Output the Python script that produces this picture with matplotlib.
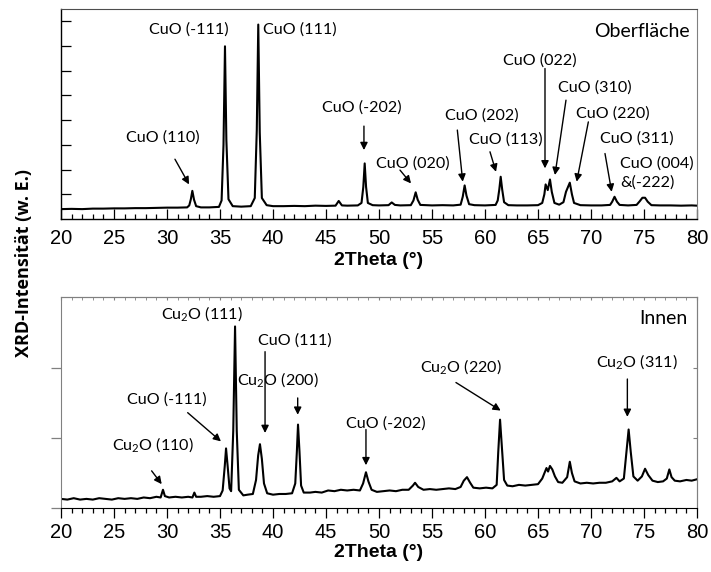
import matplotlib
matplotlib.use("Agg")
import matplotlib.pyplot as plt
from matplotlib.ticker import MultipleLocator

plt.rcParams['mathtext.default'] = 'regular'

# ---------------- data ----------------
# Top panel "Oberfläche": 2Theta and intensity (arb. units)
top_2theta = [20.0, 21, 22, 23, 24, 25, 26, 27, 28, 29, 30, 31, 31.9,
              32.1, 32.25, 32.39, 32.55, 32.75, 33.2, 34, 34.9,
              35.15, 35.33, 35.47, 35.6, 35.8, 36.2, 37, 37.9,
              38.28, 38.47, 38.61, 38.75, 38.95, 39.4, 40, 41, 42, 43, 44, 45, 45.9,
              46.2, 46.5, 47, 48, 48.35, 48.52, 48.65, 48.78, 48.95, 49.4, 50, 50.9,
              51.2, 51.5, 52, 53, 53.25, 53.46, 53.65, 53.9, 55, 56, 57, 57.7,
              57.9, 58.08, 58.25, 58.5, 59, 60, 61, 61.2, 61.35, 61.48, 61.62, 61.8,
              62.2, 63, 64, 65, 65.4, 65.6, 65.72, 65.92, 66.13, 66.3, 66.55, 67,
              67.4, 67.64, 68.0, 68.2, 68.4, 69, 70, 71, 71.8, 72.0, 72.22, 72.45,
              72.7, 73.5, 74.3, 74.6, 74.85, 75.1, 75.35, 75.7, 76.5, 77.5, 78.5,
              79.5, 80.0]
top_intensity = [0.40, 0.41, 0.40, 0.42, 0.42, 0.43, 0.43, 0.44, 0.44, 0.45, 0.46, 0.46, 0.47,
                 0.55, 0.80, 1.14, 0.78, 0.52, 0.47, 0.47, 0.49,
                 0.75, 3.0, 6.99, 3.2, 0.80, 0.52, 0.50, 0.52,
                 0.85, 3.6, 7.87, 3.5, 0.85, 0.56, 0.52, 0.52, 0.53, 0.52, 0.54, 0.53, 0.54,
                 0.73, 0.55, 0.54, 0.55, 0.65, 1.30, 2.25, 1.30, 0.65, 0.56, 0.55, 0.56,
                 0.67, 0.57, 0.55, 0.56, 0.75, 1.08, 0.78, 0.57, 0.55, 0.56, 0.55, 0.58,
                 0.90, 1.36, 0.95, 0.60, 0.56, 0.55, 0.57, 0.75, 1.20, 1.71, 1.20, 0.68,
                 0.56, 0.55, 0.55, 0.56, 0.65, 1.00, 1.40, 1.17, 1.60, 1.10, 0.65, 0.58,
                 0.68, 1.10, 1.47, 1.00, 0.65, 0.56, 0.55, 0.55, 0.57, 0.70, 0.90, 0.70,
                 0.57, 0.55, 0.57, 0.72, 0.86, 0.86, 0.70, 0.56, 0.55, 0.55, 0.54,
                 0.55, 0.54]

# Bottom panel "Innen"
bot_2theta = [20.0, 20.6, 21.2, 21.8, 22.4, 23.0, 23.6, 24.2, 24.8, 25.4, 26.0, 26.6, 27.2,
              27.8, 28.4, 29.0, 29.4, 29.62, 29.8, 30.2, 30.8, 31.4, 32.0, 32.4, 32.58,
              32.75, 33.2, 33.8, 34.4, 35.0, 35.25, 35.45, 35.57, 35.72, 35.9, 36.05,
              36.25, 36.42, 36.58, 36.78, 37.2, 37.6, 38.1, 38.4, 38.6, 38.77, 38.95,
              39.15, 39.45, 40.0, 40.6, 41.2, 41.8, 42.1, 42.25, 42.36, 42.5, 42.65,
              42.9, 43.5, 44.0, 44.6, 45.2, 45.8, 46.4, 47.0, 47.6, 48.2, 48.5, 48.77,
              49.0, 49.3, 49.8, 50.4, 51.0, 51.6, 52.2, 52.8, 53.2, 53.4, 53.7, 54.2,
              54.8, 55.4, 56.0, 56.6, 57.2, 57.7, 58.0, 58.3, 58.6, 58.9, 59.5, 60.1,
              60.7, 61.1, 61.25, 61.42, 61.6, 61.8, 62.1, 62.6, 63.2, 63.8, 64.4, 65.0,
              65.4, 65.8, 65.95, 66.13, 66.35, 66.6, 66.9, 67.3, 67.75, 68.0, 68.2,
              68.45, 69.0, 69.6, 70.2, 70.8, 71.4, 72.0, 72.4, 72.7, 73.1, 73.35, 73.55,
              73.75, 74.0, 74.4, 74.8, 75.1, 75.4, 75.8, 76.3, 76.8, 77.15, 77.39, 77.6,
              77.9, 78.4, 79.0, 79.5, 80.0]
bot_intensity = [0.13, 0.12, 0.14, 0.12, 0.13, 0.12, 0.14, 0.13, 0.12, 0.14, 0.13, 0.14, 0.13,
                 0.15, 0.14, 0.16, 0.15, 0.26, 0.17, 0.15, 0.16, 0.15, 0.16, 0.15, 0.22,
                 0.16, 0.16, 0.17, 0.16, 0.17, 0.25, 0.60, 0.85, 0.60, 0.28, 0.24,
                 1.10, 2.59, 1.10, 0.26, 0.18, 0.19, 0.20, 0.40, 0.75, 0.91, 0.70,
                 0.35, 0.21, 0.19, 0.20, 0.20, 0.21, 0.35, 0.80, 1.19, 0.80, 0.32,
                 0.22, 0.22, 0.23, 0.22, 0.25, 0.24, 0.26, 0.25, 0.26, 0.25, 0.35, 0.51,
                 0.38, 0.26, 0.23, 0.24, 0.25, 0.24, 0.26, 0.26, 0.32, 0.36, 0.30, 0.26,
                 0.27, 0.26, 0.27, 0.28, 0.27, 0.30, 0.39, 0.44, 0.36, 0.29, 0.28, 0.29,
                 0.28, 0.33, 0.80, 1.26, 0.85, 0.40, 0.32, 0.31, 0.33, 0.32, 0.33, 0.34,
                 0.42, 0.57, 0.52, 0.60, 0.55, 0.45, 0.37, 0.36, 0.44, 0.66, 0.50,
                 0.38, 0.35, 0.36, 0.35, 0.36, 0.36, 0.38, 0.43, 0.38, 0.42, 0.80, 1.12,
                 0.80, 0.45, 0.39, 0.45, 0.56, 0.47, 0.39, 0.37, 0.38, 0.42, 0.55, 0.44,
                 0.39, 0.38, 0.40, 0.39, 0.41]

# Peak labels: text, text position (x, y), arrow tail (x, y) or None, arrow head (x, y)
top_labels = ["CuO (-111)", "CuO (111)", "CuO (110)", "CuO (-202)", "CuO (020)",
              "CuO (202)", "CuO (113)", "CuO (022)", "CuO (310)", "CuO (220)",
              "CuO (311)"]
top_label_x = [32.06, 42.55, 29.6, 48.4, 53.2, 59.69, 61.93, 65.16, 70.34, 72.1, 74.3]
top_label_y = [7.68, 7.68, 3.30, 4.51, 2.25, 4.20, 3.22, 6.42, 5.32, 4.27, 3.26]
top_arrow_tail = [None, None, (30.75, 2.42), (48.58, 3.76), (51.98, 1.98),
                  (57.39, 3.60), (60.47, 2.72), (65.66, 6.09), (67.64, 4.81),
                  (69.75, 3.93), (71.32, 2.65)]
top_arrow_head = [None, None, (32.08, 1.40), (48.58, 2.79), (53.02, 1.44),
                  (57.90, 1.51), (61.04, 1.91), (65.66, 2.05), (66.60, 1.78),
                  (68.65, 1.51), (71.95, 1.10)]
top_multi_label = "CuO (004)\n&(-222)"
top_multi_pos = (72.74, 1.86)

bot_labels = [r"Cu$_\mathregular{2}$O (111)", "CuO (111)", r"Cu$_\mathregular{2}$O (200)",
              "CuO (-111)", r"Cu$_\mathregular{2}$O (110)", "CuO (-202)",
              r"Cu$_\mathregular{2}$O (220)", r"Cu$_\mathregular{2}$O (311)"]
bot_label_x = [33.27, 42.08, 40.5, 30.02, 28.71, 50.66, 57.75, 74.34]
bot_label_y = [2.78, 2.39, 1.83, 1.54, 0.90, 1.21, 2.01, 2.09]
bot_arrow_tail = [None, (39.25, 2.23), (42.33, 1.57), (31.95, 1.36), (28.55, 0.53),
                  (48.77, 1.12), (57.26, 1.79), (73.43, 1.84)]
bot_arrow_head = [None, (39.25, 1.07), (42.33, 1.33), (35.09, 0.95), (29.50, 0.34),
                  (48.77, 0.61), (61.48, 1.39), (73.43, 1.30)]

panel_titles = ["Oberfläche", "Innen"]
xlabel = "2Theta (°)"
ylabel = "XRD-Intensität (w. E.)"
x_ticks = [20, 25, 30, 35, 40, 45, 50, 55, 60, 65, 70, 75, 80]

# ---------------- figure ----------------
W, H = 711, 572
fig = plt.figure(figsize=(W / 100, H / 100), dpi=100)
ax1 = fig.add_axes([61 / W, 1 - 219 / H, 636 / W, 210 / H])
ax2 = fig.add_axes([61 / W, 1 - 508 / H, 636 / W, 211 / H])

label_font = dict(family=['Lato', 'DejaVu Sans'], size=11.6)
tick_font = 'Liberation Sans'

for ax in (ax1, ax2):
    ax.set_xlim(20, 80)
    ax.set_xticks(x_ticks)
    ax.xaxis.set_minor_locator(MultipleLocator(1))
    for lab in ax.get_xticklabels():
        lab.set_fontfamily(tick_font)
        lab.set_fontsize(14.5)
    ax.set_xlabel(xlabel, fontfamily=tick_font, fontweight='bold', fontsize=14)

# top panel
ax1.plot(top_2theta, top_intensity, color='black', lw=1.5)
ax1.set_ylim(0, 8.5)
ax1.set_yticks([1, 2, 3, 4, 5, 6, 7, 8])
ax1.set_yticklabels([])
ax1.tick_params(axis='x', which='major', direction='in', length=7, width=0.9, pad=7)
ax1.tick_params(axis='x', which='minor', direction='in', length=3.5, width=0.9)
ax1.tick_params(axis='y', which='major', direction='in', length=7, width=0.9)
ax1.xaxis.labelpad = 3
ax1.spines['right'].set_color('0.5')
ax1.spines['top'].set_color('0.3')
for s in ('left', 'bottom'):
    ax1.spines[s].set_linewidth(1.0)

for t, x, y, tail, head in zip(top_labels, top_label_x, top_label_y,
                               top_arrow_tail, top_arrow_head):
    ax1.text(x, y, t, ha='center', va='center', **label_font)
    if tail is not None:
        ax1.annotate('', xy=head, xytext=tail,
                     arrowprops=dict(arrowstyle='-|>', color='black', lw=1.0,
                                     mutation_scale=11, shrinkA=0, shrinkB=0))
ax1.text(top_multi_pos[0], top_multi_pos[1], top_multi_label, ha='left', va='center',
         linespacing=1.35, **label_font)
ax1.text(79.3, 7.57, panel_titles[0], ha='right', va='center',
         family=['Lato', 'DejaVu Sans'], size=14)

# bottom panel
ax2.plot(bot_2theta, bot_intensity, color='black', lw=1.5)
ax2.set_ylim(0, 3.01)
ax2.set_yticks([0, 1, 2])
ax2.set_yticklabels([])
ax2.tick_params(axis='x', which='major', direction='out', length=7, width=0.9, pad=4)
ax2.tick_params(axis='x', which='minor', direction='out', length=3.5, width=0.9)
ax2.tick_params(axis='y', which='major', direction='out', length=7, width=0.9,
                color='0.5')
ax2.xaxis.labelpad = 1
for s in ('left', 'top', 'right'):
    ax2.spines[s].set_color('0.5')
sec_top = ax2.secondary_xaxis('top')
sec_top.set_xticks(x_ticks)
sec_top.xaxis.set_minor_locator(MultipleLocator(1))
sec_top.tick_params(which='both', direction='in', length=2, color='0.5', labeltop=False)
sec_top.spines['top'].set_color('0.5')
sec_right = ax2.secondary_yaxis('right')
sec_right.set_yticks([1, 2])
sec_right.tick_params(direction='in', length=3, color='0.5', labelright=False)
sec_right.spines['right'].set_color('0.5')

for t, x, y, tail, head in zip(bot_labels, bot_label_x, bot_label_y,
                               bot_arrow_tail, bot_arrow_head):
    ax2.text(x, y, t, ha='center', va='center', **label_font)
    if tail is not None:
        ax2.annotate('', xy=head, xytext=tail,
                     arrowprops=dict(arrowstyle='-|>', color='black', lw=1.0,
                                     mutation_scale=11, shrinkA=0, shrinkB=0))
ax2.text(79.09, 2.71, panel_titles[1], ha='right', va='center',
         family=['Lato', 'DejaVu Sans'], size=14)

fig.text(24 / W, 1 - 263 / H, ylabel, rotation=90, ha='center', va='center',
         fontfamily=['Open Sans', 'DejaVu Sans'], fontweight='bold', fontsize=13)

fig.savefig('out.png', dpi=100)
